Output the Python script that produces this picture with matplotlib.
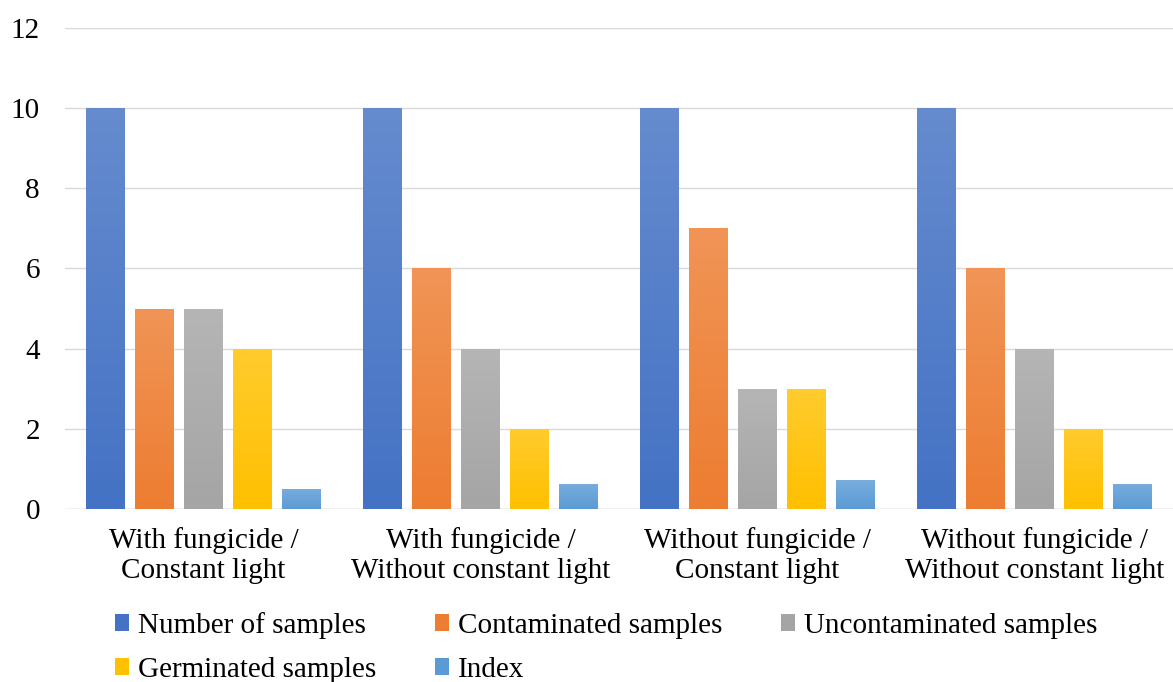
import matplotlib
matplotlib.use("Agg")
import matplotlib.pyplot as plt
import numpy as np
from matplotlib.colors import LinearSegmentedColormap, to_rgb
from matplotlib.patches import Patch

plt.rcParams['font.family'] = ['Liberation Serif', 'DejaVu Serif']

categories = ["With fungicide /\nConstant light", "With fungicide /\nWithout constant light",
              "Without fungicide /\nConstant light", "Without fungicide /\nWithout constant light"]
series_names = ["Number of samples", "Contaminated samples", "Uncontaminated samples",
                "Germinated samples", "Index"]
number_of_samples = [10, 10, 10, 10]
contaminated = [5, 6, 7, 6]
uncontaminated = [5, 4, 3, 4]
germinated = [4, 2, 3, 2]
index_vals = [0.5, 0.63, 0.72, 0.63]
series = [number_of_samples, contaminated, uncontaminated, germinated, index_vals]
colors = ["#4472C4", "#ED7D31", "#A5A5A5", "#FFC000", "#5B9BD5"]

fig = plt.figure(figsize=(11.73, 6.82), dpi=100)
ax = fig.add_axes([0.0554, 0.2537, 0.9446, 0.7053])

x = np.arange(len(categories))
pitch = 0.177
width = 0.14

def lighten(c, f):
    r = np.array(to_rgb(c))
    return tuple(r + (1 - r) * f)

for i, (vals, col) in enumerate(zip(series, colors)):
    offs = (i - 2) * pitch
    bars = ax.bar(x + offs, vals, width, color=col, label=series_names[i], zorder=3)
    cmap = LinearSegmentedColormap.from_list("g", [col, lighten(col, 0.18)])
    for b in bars:
        bx, by = b.get_x(), b.get_y()
        bw, bh = b.get_width(), b.get_height()
        grad = np.linspace(0, 1, 100).reshape(-1, 1)
        im = ax.imshow(grad, extent=[bx, bx + bw, by, by + bh], origin='lower',
                       cmap=cmap, aspect='auto', zorder=4)
        im.set_clip_path(b)

ax.set_xlim(-0.5, 3.5)
ax.set_ylim(0, 12)
ax.set_yticks(range(0, 13, 2))
ax.set_xticks(x)
ax.set_xticklabels(categories, fontsize=21, linespacing=1.2)
ax.tick_params(axis='y', labelsize=21, length=0, pad=18)
ax.tick_params(axis='x', length=0, pad=13)
ax.grid(axis='y', color='#D9D9D9', linewidth=1, zorder=0)
for s in ax.spines.values():
    s.set_visible(False)
ax.axhline(0, color='#D9D9D9', linewidth=1, zorder=2)

handles = [Patch(facecolor=c) for c in colors]
order = [0, 3, 1, 4, 2]
leg = fig.legend([handles[k] for k in order], [series_names[k] for k in order],
                 loc='upper left', bbox_to_anchor=(0.088, 0.120),
                 ncol=3, frameon=False, fontsize=21, handlelength=0.5, handleheight=0.5,
                 handletextpad=0.3, columnspacing=2.0, labelspacing=0.62, borderaxespad=0)

fig.savefig("out.png", dpi=100)
